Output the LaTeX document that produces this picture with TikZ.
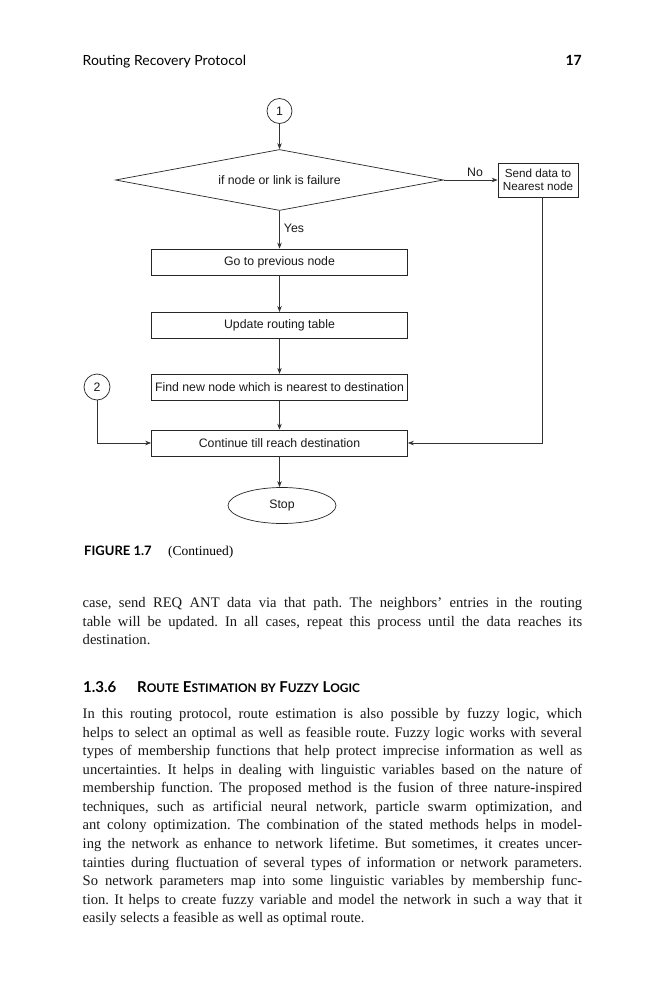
\documentclass[tikz,border=0pt]{standalone}
\usepackage{fontspec}
\setmainfont{Liberation Serif}
\newfontfamily\chartfont{Liberation Sans}
\newfontfamily\headfont{Lato}
\usetikzlibrary{arrows.meta,shapes.geometric,positioning}

\newcommand{\smc}[1]{{\fontsize{11.9}{11.9}\selectfont #1}}
\newcommand{\nobreakhyph}{\hyphenpenalty=10000 \exhyphenpenalty=10000 \frenchspacing}

\tikzset{
    flowtext/.style={font=\chartfont\fontsize{12.3}{14}\selectfont, text=black!90},
    flowbox/.style={flowtext, draw=black!85, line width=0.7pt, rectangle, minimum width=256pt, minimum height=26pt, inner sep=2pt},
    decision/.style={flowtext, draw=black!85, line width=0.7pt, diamond, aspect=10, minimum width=328pt, minimum height=61pt, inner sep=0pt},
    connector/.style={flowtext, draw=black!85, line width=0.7pt, circle, inner sep=0pt},
    terminal/.style={flowtext, draw=black!85, line width=0.7pt, ellipse, minimum width=108pt, minimum height=36pt, inner sep=0pt},
    flowline/.style={draw=black!80, line width=0.7pt, -{Stealth[length=6pt,width=4.5pt]}},
    bodytext/.style={anchor=base west, inner sep=0pt, text width=499.5pt, align=justify,
        font=\fontsize{14.6}{18.57}\selectfont, text=black!90}
}

\begin{document}
\begin{tikzpicture}[x=1pt, y=-1pt]
    \fill[white] (0,0) rectangle (666,1000);
    \useasboundingbox (0,0) rectangle (666,1000);

    % Running head
    \node (runhead) [anchor=base west, inner sep=0pt, font=\headfont\fontsize{14}{16}\selectfont] at (82.5,66) {Routing Recovery Protocol};
    \node (pagenum) [anchor=base east, inner sep=0pt, font=\headfont\bfseries\fontsize{14}{16}\selectfont] at (582,66) {17};

    % First, locate each of the nodes and name them
    \node (conn1) [connector, minimum size=25pt] at (279.5,111) {1};
    \node (failure) [decision] at (279.5,180) {if node or link is failure};
    \node (senddata) [flowtext, font=\chartfont\fontsize{11.7}{13.5}\selectfont, draw=black!85, line width=0.7pt, minimum width=80pt, minimum height=34pt, inner sep=1pt, align=center] at (538,180) {Send data to\\Nearest node};

    \node (goprev) [flowbox] at (279.5,262) {Go to previous node};
    \node (update) [flowbox] at (279.5,325.3) {Update routing table};
    \node (findnew) [flowbox] at (279.5,387.2) {Find new node which is nearest to destination};
    \node (continue) [flowbox] at (279.5,443) {Continue till reach destination};
    \node (stop) [terminal] at (282,505.5) {Stop};

    \node (conn2) [connector, minimum size=26pt] at (97,387) {2};

    \node (labno) [flowtext] at (475,172) {No};
    \node (labyes) [flowtext] at (294,228) {Yes};

    % Now draw the lines
    \draw [flowline] (conn1) -- (failure.north);
    \draw [flowline] (failure.east) -- (senddata);
    \draw [flowline] (failure.south) -- (goprev);
    \draw [flowline] (goprev) -- (update);
    \draw [flowline] (update) -- (findnew);
    \draw [flowline] (findnew) -- (continue);
    \draw [flowline] (continue) -- (continue |- stop.north);
    % Side entries into the last box
    \draw [flowline] (conn2) |- (continue);
    \draw [flowline] ([xshift=4pt]senddata.south) |- (continue);

    % Caption
    \node (caption) [anchor=base west, inner sep=0pt, font=\headfont\bfseries\fontsize{13}{15}\selectfont] at (84,555) {FIGURE 1.7};
    \node (capcont) [anchor=base west, inner sep=0pt, font=\fontsize{13.5}{15}\selectfont] at (168,555) {(Continued)};

    % Body text
    \node (parone) [bodytext] at (82.5,607.5) {\nobreakhyph case, send REQ ANT data via that path. The neighbors’ entries in the routing\linebreak
        table will be updated. In all cases, repeat this process until the data reaches its\linebreak
        destination.};

    \node (secnum) [anchor=base west, inner sep=0pt, font=\headfont\bfseries\fontsize{15}{17}\selectfont] at (83,692) {1.3.6};
    \node (sectitle) [anchor=base west, inner sep=0pt, font=\headfont\bfseries\fontsize{15}{17}\selectfont] at (137,692) {R\smc{OUTE} E\smc{STIMATION} \smc{BY} F\smc{UZZY} L\smc{OGIC}};

    \node (partwo) [bodytext] at (82.5,718.5) {\nobreakhyph In this routing protocol, route estimation is also possible by fuzzy logic, which\linebreak
        helps to select an optimal as well as feasible route. Fuzzy logic works with several\linebreak
        types of membership functions that help protect imprecise information as well as\linebreak
        uncertainties. It helps in dealing with linguistic variables based on the nature of\linebreak
        membership function. The proposed method is the fusion of three nature-inspired\linebreak
        techniques, such as artificial neural network, particle swarm optimization, and\linebreak
        ant colony optimization. The combination of the stated methods helps in model-\linebreak
        ing the network as enhance to network lifetime. But sometimes, it creates uncer-\linebreak
        tainties during fluctuation of several types of information or network parameters.\linebreak
        So network parameters map into some linguistic variables by membership func-\linebreak
        tion. It helps to create fuzzy variable and model the network in such a way that it\linebreak
        easily selects a feasible as well as optimal route.};
\end{tikzpicture}
\end{document}
